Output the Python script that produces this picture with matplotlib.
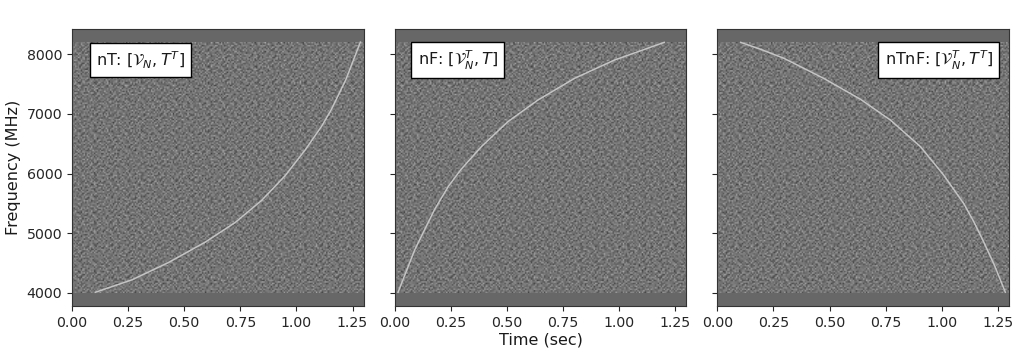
"""Three dechirped spectrograms: nT, nF and nTnF."""
import matplotlib
matplotlib.use("Agg")
import matplotlib.pyplot as plt
import numpy as np

# curve points
time_nt = [0.104, 0.267, 0.430, 0.593, 0.727, 0.845, 0.949, 1.038, 1.112, 1.154, 1.220, 1.285]
freq_nt = [4012, 4220, 4510, 4850, 5180, 5550, 5960, 6390, 6790, 7060, 7570, 8200]
time_nf = [0.015, 0.089, 0.178, 0.240, 0.297, 0.386, 0.504, 0.638, 0.801, 0.979, 1.201]
freq_nf = [4012, 4720, 5400, 5790, 6075, 6449, 6867, 7230, 7593, 7900, 8196]
time_ntnf = [0.104, 0.200, 0.297, 0.474, 0.638, 0.771, 0.905, 1.008, 1.097, 1.140, 1.186, 1.235, 1.283]
freq_ntnf = [8196, 8070, 7928, 7593, 7242, 6895, 6449, 5975, 5500, 5210, 4860, 4460, 4012]

titles = [r"nT: $[\mathcal{V}_N, T^T]$", r"nF: $[\mathcal{V}_N^T, T]$", r"nTnF: $[\mathcal{V}_N^T, T^T]$"]
x_ticks = [0.00, 0.25, 0.50, 0.75, 1.00, 1.25]
y_ticks = [4000, 5000, 6000, 7000, 8000]

# hand-typed grain (grey levels 0-9), the individual specks can't be read off
# the picture so these only stand in for the look of the noise. Two sizes so
# the repeat doesn't show as much.
grain_a = [
    "3748261957304682",
    "6150837426918350",
    "4826395071564927",
    "9273046158230746",
    "1564782903647185",
    "7309516284095362",
    "5842170639728401",
    "2697453810164973",
    "8031629475382516",
    "4176908253746029",
    "6925341780915648",
    "3580762149263807",
    "7214895306471592",
    "0963527481806234",
    "5487016392759160",
    "1732864950248673",
]
grain_b = [
    "52907316842",
    "18364950273",
    "70425168939",
    "36981274051",
    "94150738626",
    "27639405817",
    "81572960314",
    "45018326799",
    "63297841500",
    "09746153282",
    "74831029565",
]
noise_extent = [0.0, 1.3, 4000, 8200]

plt.rcParams["font.size"] = 10.2

rows, cols = 170, 200
tile_a = np.array([[int(c) for c in row] for row in grain_a])
tile_b = np.array([[int(c) for c in row] for row in grain_b])
noise = np.tile(tile_a, (11, 13))[:rows, :cols] + np.tile(tile_b, (16, 19))[:rows, :cols]

fig, axes = plt.subplots(1, 3, sharey=True, figsize=(10.24, 3.55), dpi=100)
fig.subplots_adjust(left=0.0703, right=0.9855, top=0.918, bottom=0.138, wspace=0.106)

curves = [(time_nt, freq_nt), (time_nf, freq_nf), (time_ntnf, freq_ntnf)]
for ax, (t, f) in zip(axes, curves):
    ax.set_facecolor("#676767")
    ax.imshow(noise, extent=noise_extent, origin="lower", aspect="auto", cmap="gray",
              vmin=-11, vmax=33, interpolation="bilinear")
    ax.plot(t, f, color="#c4c4c4", lw=1.1, solid_joinstyle="round")
    ax.set_xlim(0, 1.3)
    ax.set_ylim(3782, 8418)
    ax.set_xticks(x_ticks)
    ax.set_xticklabels([f"{v:.2f}" for v in x_ticks])
    ax.set_yticks(y_ticks)
    ax.tick_params(colors="#262626")
    for s in ax.spines.values():
        s.set_color("#333333")

box = dict(boxstyle="square,pad=0.4", fc="white", ec="black", lw=1.0)
axes[0].text(0.082, 0.888, titles[0], transform=axes[0].transAxes, ha="left", va="center", fontsize=11.5, color="#1a1a1a", bbox=box)
axes[1].text(0.079, 0.888, titles[1], transform=axes[1].transAxes, ha="left", va="center", fontsize=11.5, color="#1a1a1a", bbox=box)
axes[2].text(0.945, 0.888, titles[2], transform=axes[2].transAxes, ha="right", va="center", fontsize=11.5, color="#1a1a1a", bbox=box)

axes[0].set_ylabel("Frequency (MHz)", fontsize=11.5, color="#1a1a1a")
axes[1].set_xlabel("Time (sec)", fontsize=11.5, labelpad=2, color="#1a1a1a")

fig.savefig("out.png", dpi=100)
